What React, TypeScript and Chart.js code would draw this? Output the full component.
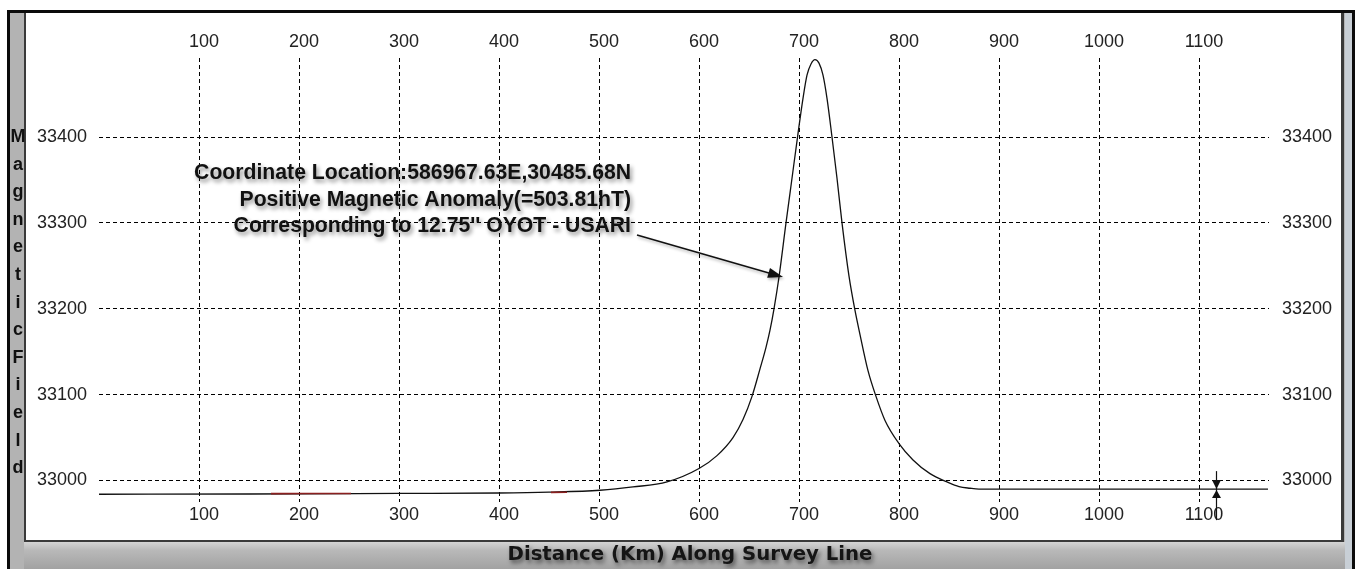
import React, { useEffect, useRef } from "react";
import { Chart, registerables } from "chart.js";

Chart.register(...registerables);

// ---------- data ----------
const distanceKm = [
  0, 150, 300, 400, 450, 501, 534, 568, 600, 618, 634, 644, 653, 661, 667, 671,
  675, 680, 687, 693, 699, 704, 708, 712, 716, 720, 724, 728, 733, 738, 743,
  750, 756, 761, 769, 777, 786, 800, 814, 831, 848, 860, 871, 880, 1000, 1169,
];
const magneticField = [
  32984, 32984.3, 32985, 32985.5, 32986.5, 32988.7, 32992.5, 32998.4, 33014,
  33029, 33050, 33071, 33098, 33130, 33155, 33175, 33200, 33237, 33300, 33352,
  33404, 33445, 33472, 33485, 33490, 33486, 33472, 33445, 33400, 33352, 33300,
  33238, 33198, 33170, 33128, 33098, 33070, 33043, 33024, 33008, 32998.4,
  32993, 32991, 32990, 32990, 32990,
];
// short reddish segments visible on the base line
const redDistanceKm = [172, 210, 252, 300, 452, 468];
const redField = [32984.7, 32984.9, 32984.9, null, 32986.2, 32986.4];

const xTickValues = [100, 200, 300, 400, 500, 600, 700, 800, 900, 1000, 1100];
const yTickValues = [33000, 33100, 33200, 33300, 33400];

const annotationLines = [
  "Coordinate Location:586967.63E,30485.68N",
  "Positive Magnetic Anomaly(=503.81hT)",
  "Corresponding to 12.75'' OYOT - USARI",
];
const annotationAnchor = { x: 532, y: 33351 }; // right edge / first baseline
const arrowStart = { x: 538, y: 33286 };
const arrowTip = { x: 684, y: 33237 };
const cursorDistanceKm = 1117;
const cursorField = 32990;

const yAxisTitle = "Magnetic Field";
const xAxisTitle = "Distance (Km) Along Survey Line";

const W = 1358;
const H = 569;
const FONT = '"Liberation Sans", Arial, sans-serif';

const framePlugin = {
  id: "frame",
  beforeDraw(chart: any) {
    const ctx = chart.ctx as CanvasRenderingContext2D;
    ctx.save();
    ctx.fillStyle = "#ffffff";
    ctx.fillRect(0, 0, W, H);
    // outer black frame
    ctx.fillStyle = "#0b0b0b";
    ctx.fillRect(7, 10, 1348, H - 10);
    // gray interior
    ctx.fillStyle = "#b3b3b3";
    ctx.fillRect(10, 13, 1342, H - 13);
    // right light strip
    ctx.fillStyle = "#c8cfd6";
    ctx.fillRect(1345, 13, 7, H - 13);
    // bottom bar gradient
    const g = ctx.createLinearGradient(0, 542, 0, H);
    g.addColorStop(0, "#d4d4d4");
    g.addColorStop(0.3, "#b9b9b9");
    g.addColorStop(1, "#a2a2a2");
    ctx.fillStyle = g;
    ctx.fillRect(24, 542, 1321, H - 542);
    // panel dark border + white panel
    ctx.fillStyle = "#3a3a3a";
    ctx.fillRect(24, 13, 1320, 529);
    ctx.fillStyle = "#ffffff";
    ctx.fillRect(26, 13, 1315, 527);
    ctx.restore();
  },
};

const overlayPlugin = {
  id: "overlay",
  afterDraw(chart: any) {
    const ctx = chart.ctx as CanvasRenderingContext2D;
    const xs = chart.scales.x;
    const ys = chart.scales.y;
    ctx.save();

    // annotation text
    ctx.font = `bold 21.2px ${FONT}`;
    ctx.textAlign = "right";
    ctx.textBaseline = "alphabetic";
    ctx.shadowColor = "rgba(0,0,0,0.45)";
    ctx.shadowBlur = 4;
    ctx.shadowOffsetX = 2;
    ctx.shadowOffsetY = 3;
    ctx.fillStyle = "#111";
    const ax = xs.getPixelForValue(annotationAnchor.x);
    const ay = ys.getPixelForValue(annotationAnchor.y);
    annotationLines.forEach((t, i) => ctx.fillText(t, ax, ay + i * 26.5));

    // arrow
    const sx = xs.getPixelForValue(arrowStart.x);
    const sy = ys.getPixelForValue(arrowStart.y);
    const tx = xs.getPixelForValue(arrowTip.x);
    const ty = ys.getPixelForValue(arrowTip.y);
    const ang = Math.atan2(ty - sy, tx - sx);
    const headLen = 15;
    const headW = 5;
    ctx.shadowBlur = 3;
    ctx.shadowOffsetX = 1;
    ctx.shadowOffsetY = 2;
    ctx.shadowColor = "rgba(0,0,0,0.3)";
    ctx.strokeStyle = "#111";
    ctx.lineWidth = 1.6;
    ctx.beginPath();
    ctx.moveTo(sx, sy);
    ctx.lineTo(tx - Math.cos(ang) * headLen * 0.8, ty - Math.sin(ang) * headLen * 0.8);
    ctx.stroke();
    ctx.beginPath();
    ctx.moveTo(tx, ty);
    ctx.lineTo(
      tx - Math.cos(ang) * headLen + Math.sin(ang) * headW,
      ty - Math.sin(ang) * headLen - Math.cos(ang) * headW
    );
    ctx.lineTo(
      tx - Math.cos(ang) * headLen - Math.sin(ang) * headW,
      ty - Math.sin(ang) * headLen + Math.cos(ang) * headW
    );
    ctx.closePath();
    ctx.fillStyle = "#111";
    ctx.fill();

    ctx.shadowColor = "transparent";
    ctx.shadowBlur = 0;
    ctx.shadowOffsetX = 0;
    ctx.shadowOffsetY = 0;

    // cursor marker
    const cx = Math.round(xs.getPixelForValue(cursorDistanceKm)) + 0.5;
    const cy = ys.getPixelForValue(cursorField);
    ctx.strokeStyle = "#111";
    ctx.lineWidth = 1.2;
    ctx.beginPath();
    ctx.moveTo(cx, cy - 18);
    ctx.lineTo(cx, cy + 31);
    ctx.stroke();
    ctx.fillStyle = "#111";
    ctx.beginPath();
    ctx.moveTo(cx - 4.5, cy - 9);
    ctx.lineTo(cx + 4.5, cy - 9);
    ctx.lineTo(cx, cy);
    ctx.closePath();
    ctx.fill();
    ctx.beginPath();
    ctx.moveTo(cx - 4.5, cy + 9);
    ctx.lineTo(cx + 4.5, cy + 9);
    ctx.lineTo(cx, cy + 1);
    ctx.closePath();
    ctx.fill();

    // vertical stacked y title
    ctx.font = `bold 18px ${FONT}`;
    ctx.textAlign = "center";
    ctx.textBaseline = "middle";
    ctx.fillStyle = "#111";
    const letters = yAxisTitle.replace(/\s+/g, "").split("");
    const top = ys.getPixelForValue(33400);
    letters.forEach((ch, i) => ctx.fillText(ch, 18, top + i * 27.6));

    // x title
    ctx.font = `bold 19.7px "DejaVu Sans", Verdana, sans-serif`;
    ctx.textAlign = "center";
    ctx.textBaseline = "alphabetic";
    ctx.shadowColor = "rgba(0,0,0,0.5)";
    ctx.shadowBlur = 4;
    ctx.shadowOffsetX = 2;
    ctx.shadowOffsetY = 3;
    ctx.fillStyle = "#151515";
    ctx.fillText(xAxisTitle, 690, 560);

    ctx.restore();
  },
};

const tickFont = { family: FONT, size: 18 };
const xTicksFn = (s: any) => {
  s.ticks = xTickValues.map((v) => ({ value: v }));
};
const yTicksFn = (s: any) => {
  s.ticks = yTickValues.map((v) => ({ value: v }));
};
const fmt = (v: any) => String(v);

export default function App() {
  const ref = useRef<HTMLCanvasElement>(null);
  useEffect(() => {
    const canvas = ref.current!;
    const chart = new Chart(canvas, {
      type: "line",
      data: {
        datasets: [
          {
            label: "Magnetic Field",
            data: distanceKm.map((d, i) => ({ x: d, y: magneticField[i] })),
            borderColor: "#111",
            borderWidth: 1.3,
            pointRadius: 0,
            cubicInterpolationMode: "monotone",
            fill: false,
            order: 2,
          },
          {
            label: "segment",
            data: redDistanceKm.map((d, i) => ({ x: d, y: redField[i] })),
            borderColor: "#8a1f1f",
            borderWidth: 1.6,
            pointRadius: 0,
            spanGaps: false,
            fill: false,
            order: 1,
          },
        ],
      } as any,
      options: {
        responsive: false,
        animation: false,
        devicePixelRatio: 1,
        events: [],
        layout: { padding: 0 },
        plugins: {
          legend: { display: false },
          tooltip: { enabled: false },
          title: { display: false },
        },
        scales: {
          x: {
            type: "linear",
            position: "bottom",
            min: 0,
            max: 1170,
            afterBuildTicks: xTicksFn,
            afterFit: (s: any) => {
              s.height = 67;
            },
            grid: { color: "#000", lineWidth: 1, drawTicks: false },
            border: { display: false, dash: [4, 3] },
            ticks: {
              color: "#222",
              font: tickFont,
              padding: 2,
              labelOffset: 5,
              maxRotation: 0,
              autoSkip: false,
              callback: fmt,
            },
          },
          x2: {
            type: "linear",
            position: "top",
            min: 0,
            max: 1170,
            afterBuildTicks: xTicksFn,
            afterFit: (s: any) => {
              s.height = 58;
            },
            grid: { display: false, drawTicks: false },
            border: { display: false },
            ticks: {
              color: "#222",
              font: tickFont,
              padding: 5,
              labelOffset: 5,
              maxRotation: 0,
              autoSkip: false,
              callback: fmt,
            },
          },
          y: {
            type: "linear",
            position: "left",
            min: 32975,
            max: 33492,
            afterBuildTicks: yTicksFn,
            afterFit: (s: any) => {
              s.width = 99;
            },
            grid: { color: "#000", lineWidth: 1, drawTicks: false },
            border: { display: false, dash: [4, 3] },
            ticks: { color: "#222", font: tickFont, padding: 12, callback: fmt },
          },
          y2: {
            type: "linear",
            position: "right",
            min: 32975,
            max: 33492,
            afterBuildTicks: yTicksFn,
            afterFit: (s: any) => {
              s.width = 89;
            },
            grid: { display: false, drawTicks: false },
            border: { display: false },
            ticks: { color: "#222", font: tickFont, padding: 13, callback: fmt },
          },
        },
      } as any,
      plugins: [framePlugin, overlayPlugin],
    });
    return () => chart.destroy();
  }, []);

  return (
    <div style={{ position: "fixed", left: 0, top: 0, width: W, height: H }}>
      <canvas
        ref={ref}
        width={W}
        height={H}
        style={{ display: "block", width: W, height: H }}
      />
    </div>
  );
}
